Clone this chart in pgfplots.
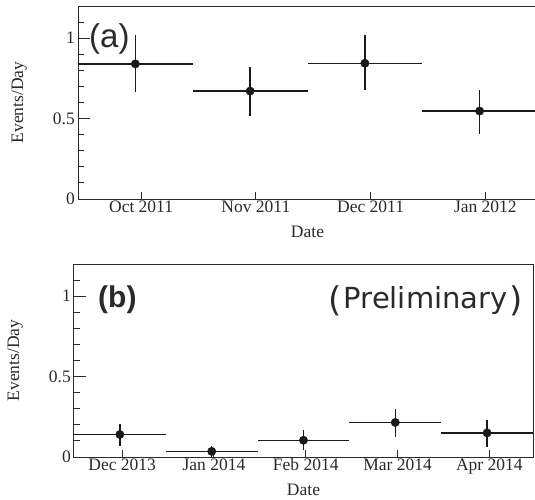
\documentclass[border=0pt]{standalone}
\usepackage{pgfplots}
\pgfplotsset{compat=1.18}
\usepackage{pgfplotstable}
\usepackage{fontspec}
\setmainfont{Liberation Serif}
\newfontfamily\dvsans{DejaVu Sans}
\newfontfamily\lbsans{Liberation Sans}
\definecolor{axcol}{HTML}{2A2A2A}
\definecolor{pcol}{HTML}{1A1A1A}

\pgfplotstableread{
x y ep em
0 0.840 0.179 0.175
1 0.671 0.152 0.157
2 0.844 0.175 0.169
3 0.547 0.132 0.140
}\topdata

\pgfplotstableread{
x y ep em
0 0.140 0.068 0.073
1 0.035 0.032 0.035
2 0.104 0.067 0.058
3 0.215 0.083 0.090
4 0.150 0.083 0.088
}\botdata

\pgfplotsset{
  myaxis/.style={
    scale only axis, width=459pt, height=193pt,
    ymin=0, ymax=1.2,
    ytick={0,0.5,1}, yticklabels={0,0.5,1},
    minor ytick={0.1,0.2,0.3,0.4,0.6,0.7,0.8,0.9,1.1},
    tick align=inside, tick pos=left,
    axis line style={draw=axcol, line width=1pt},
    major tick length=12pt, minor tick length=6pt,
    every tick/.style={draw=axcol, line width=1pt},
    xtick style={/pgfplots/major tick length=7pt},
    tick label style={font=\fontsize{17.5}{20}\selectfont, text=axcol},
    yticklabel style={inner sep=3pt},
    xticklabel style={inner sep=1.5pt},
    label style={font=\fontsize{17.5}{20}\selectfont, text=axcol},
    /pgf/number format/assume math mode=true,
    xlabel=Date, ylabel=Events/Day,
    xlabel style={at={(axis description cs:0.5,-0.202)}, anchor=base},
    ylabel style={at={(axis description cs:-0.128,0.5)}, anchor=center},
  },
  mydata/.style={only marks, mark=*, mark size=4.2pt, color=pcol,
    error bars/.cd, x dir=both, x fixed=0.5, y dir=both, y explicit,
    error mark=none, error bar style={line width=1.3pt, color=pcol}},
}
\newcommand{\bigparen}[1]{\raisebox{-3pt}{\fontsize{34}{34}\selectfont #1}}

\begin{document}
\begin{tikzpicture}
\begin{axis}[myaxis, at={(78pt,-199pt)}, anchor=south west,
  xmin=-0.5, xmax=3.5,
  xtick={0.05,1.05,2.05,3.05},
  xticklabels={Oct 2011,Nov 2011,Dec 2011,Jan 2012},
  axis x line*=bottom, axis y line*=left,
  ]
\addplot[mydata] table[x=x, y=y, y error plus=ep, y error minus=em] {\topdata};
\draw[axcol, line width=1pt] (axis cs:-0.5,1.2) -- (axis cs:3.5,1.2);
\end{axis}

\begin{axis}[myaxis, at={(74pt,-457pt)}, anchor=south west,
  xmin=-0.5, xmax=4.5,
  xtick={0.025,1.025,2.025,3.025,4.025},
  xticklabels={Dec 2013,Jan 2014,Feb 2014,Mar 2014,Apr 2014},
  ]
\addplot[mydata] table[x=x, y=y, y error plus=ep, y error minus=em] {\botdata};
\end{axis}

\node[anchor=base west, inner sep=0pt, text=axcol, font=\lbsans\fontsize{33}{33}\selectfont] at (89pt,-48pt) {(a)};
\node[anchor=base west, inner sep=0pt, text=axcol, font=\lbsans\bfseries\fontsize{30}{30}\selectfont] at (98pt,-307pt) {(b)};
\node[anchor=base east, inner sep=0pt, text=axcol, font=\dvsans\fontsize{29}{29}\selectfont] at (523pt,-308pt) {\bigparen{(}\kern2pt Preliminary\kern2pt\bigparen{)}};

\pgfresetboundingbox
\path[use as bounding box] (0pt,0pt) rectangle (535pt,-500pt);
\end{tikzpicture}
\end{document}
